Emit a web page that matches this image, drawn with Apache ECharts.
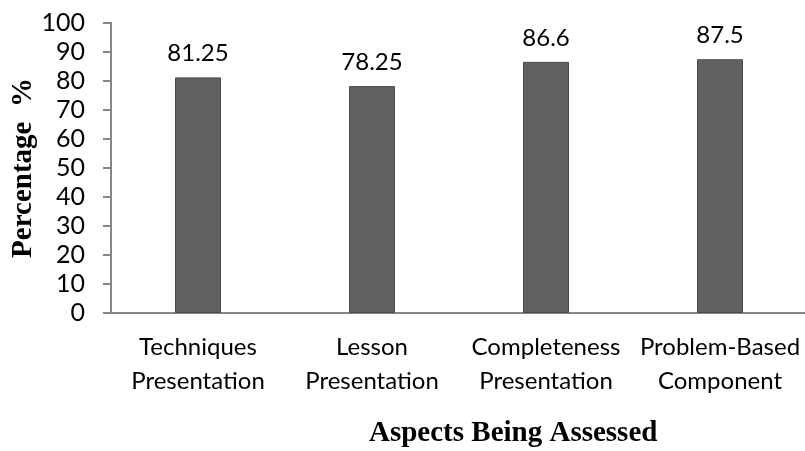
<!DOCTYPE html>
<html>
<head>
<meta charset="utf-8">
<script src="https://cdn.jsdelivr.net/npm/echarts@6/dist/echarts.min.js"></script>
<style>
  html, body { margin: 0; padding: 0; background: #fff; }
  #chart { width: 805px; height: 451px; }
</style>
</head>
<body>
<div id="chart"></div>
<script>
// aspects assessed and their scores
const categories = [
  'Techniques\nPresentation',
  'Lesson\nPresentation',
  'Completeness\nPresentation',
  'Problem-Based\nComponent'
];
const percentages = [81.25, 78.25, 86.6, 87.5];
const yTicks = { min: 0, max: 100, interval: 10 };

const chart = echarts.init(document.getElementById('chart'));
const labelFont = 'Lato, "Open Sans", sans-serif';
const serifFont = '"Liberation Serif", "Times New Roman", serif';

chart.setOption({
  animation: false,
  // x axis title sits off-centre in the original, so it is placed as a title
  title: {
    text: 'Aspects Being Assessed',
    left: 369, top: 419,
    padding: 0,
    textStyle: { fontFamily: serifFont, fontWeight: 'bold', fontSize: 29, color: '#000' }
  },
  grid: {
    left: 111, width: 696, top: 23, bottom: 138,
    containLabel: false, outerBoundsMode: 'none'
  },
  xAxis: {
    type: 'category',
    data: categories,
    axisLine: { lineStyle: { color: '#868686', width: 2 } },
    axisTick: { show: false },
    axisLabel: {
      interval: 0, margin: 17, color: '#000',
      fontFamily: labelFont, fontSize: 24, lineHeight: 34
    }
  },
  yAxis: {
    type: 'value',
    min: yTicks.min, max: yTicks.max, interval: yTicks.interval,
    name: 'Percentage  %',
    nameLocation: 'middle',
    nameGap: 73,
    nameMoveOverlap: false,
    nameTextStyle: { fontFamily: serifFont, fontWeight: 'bold', fontSize: 29, color: '#000' },
    axisLine: { show: true, lineStyle: { color: '#868686', width: 2 } },
    axisTick: { show: true, length: 8, lineStyle: { color: '#868686', width: 2 } },
    axisLabel: { margin: 26, color: '#000', fontFamily: labelFont, fontSize: 25 },
    splitLine: { show: false }
  },
  series: [{
    type: 'bar',
    data: percentages,
    barWidth: 46,
    itemStyle: { color: '#616161', borderColor: '#4a4a4a', borderWidth: 1 },
    label: {
      show: true, position: 'top', distance: 12,
      color: '#000', fontFamily: labelFont, fontSize: 24
    }
  }]
});
</script>
</body>
</html>
